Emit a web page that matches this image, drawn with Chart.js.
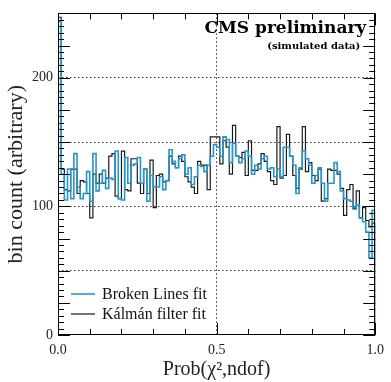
<!DOCTYPE html>
<html>
<head>
<meta charset="utf-8">
<script src="https://cdn.jsdelivr.net/npm/chart.js@4/dist/chart.umd.min.js"></script>
<style>
  html, body { margin: 0; padding: 0; background: #fff; }
  #wrap { width: 391px; height: 382px; }
</style>
</head>
<body>
<div id="wrap"><canvas id="c" width="391" height="382"></canvas></div>
<script>
// Histogram: 100 bins on [0, 1]
const binEdgesMin = 0;
const binEdgesMax = 1;
const nBins = 100;

const brokenLines = [
  244,125,105,129,106,141,115,106,110,127,
  104,141,112,118,128,114,122,121,143,106,
  105,138,118,132,133,138,118,129,104,124,
  115,115,123,113,120,144,135,130,137,140,
  125,130,117,123,132,131,127,132,139,148,
  146,139,154,152,134,149,139,134,137,143,
  139,125,132,129,137,139,129,130,123,129,
  123,146,146,139,132,110,130,143,137,132,
  118,124,130,118,104,118,118,134,127,112,
  106,105,104,99,101,91,88,80,60,97
];

const kalman = [
  247,129,113,112,129,129,110,120,119,110,
  91,125,118,125,118,122,139,141,108,106,
  143,113,112,137,137,118,110,129,110,136,
  99,124,125,119,120,139,133,130,139,135,
  123,119,115,110,135,132,132,113,154,154,
  154,133,151,146,125,163,139,138,142,124,
  151,128,128,133,141,135,127,120,117,162,
  122,124,156,139,124,114,129,162,127,134,
  124,120,129,104,106,129,128,128,125,114,
  93,113,117,98,112,91,99,89,84,87
];

const seriesLabels = ['Broken Lines fit', 'K\u00e1lm\u00e1n filter fit'];
const xTickLabels = {0: '0.0', 0.5: '0.5', 1: '1.0'};
const yTickLabels = [0, 100, 200];
const yGridValues = [50, 100, 150, 200];
const xGridValues = [0.5];

function histPoints(vals) {
  const w = (binEdgesMax - binEdgesMin) / nBins;
  const pts = [{x: binEdgesMin, y: 0}];
  vals.forEach((v, i) => {
    pts.push({x: binEdgesMin + i * w, y: v});
    pts.push({x: binEdgesMin + (i + 1) * w, y: v});
  });
  pts.push({x: binEdgesMax, y: 0});
  return pts;
}

const SERIF = '"Liberation Serif", "DejaVu Serif", serif';
const WIDE = '"DejaVu Serif", "Liberation Serif", serif';
const BLUE = '#2596c8';
const BLACK = '#1a1a1a';

const frameAndTicks = {
  id: 'frameAndTicks',
  afterDraw(chart) {
    const ctx = chart.ctx;
    const a = chart.chartArea;
    const xs = chart.scales.x, ys = chart.scales.y;
    ctx.save();
    ctx.strokeStyle = '#000';
    ctx.lineWidth = 1;
    ctx.strokeRect(Math.round(a.left) + 0.5, Math.round(a.top) + 0.5,
                   Math.round(a.right - a.left) - 1, Math.round(a.bottom - a.top) - 1);
    ctx.beginPath();
    for (let v = 0; v <= 250; v += 5) {
      const y = Math.round(ys.getPixelForValue(v)) + 0.5;
      const len = (v % 25 === 0) ? 12 : 6;
      ctx.moveTo(a.left, y); ctx.lineTo(a.left + len, y);
      ctx.moveTo(a.right, y); ctx.lineTo(a.right - len, y);
    }
    for (let k = 0; k <= 10; k++) {
      const x = Math.round(xs.getPixelForValue(k / 10)) + 0.5;
      const len = (k % 5 === 0) ? 12 : 6;
      ctx.moveTo(x, a.bottom); ctx.lineTo(x, a.bottom - len);
      ctx.moveTo(x, a.top); ctx.lineTo(x, a.top + len);
    }
    ctx.stroke();

    // legend
    const items = [[BLUE, 1.6, seriesLabels[0]], [BLACK, 1.2, seriesLabels[1]]];
    ctx.font = '16px ' + SERIF;
    ctx.textBaseline = 'middle';
    ctx.textAlign = 'left';
    items.forEach((it, i) => {
      const y = 294 + i * 20;
      ctx.strokeStyle = it[0];
      ctx.lineWidth = it[1];
      ctx.beginPath();
      ctx.moveTo(a.left + 13, y); ctx.lineTo(a.left + 37, y);
      ctx.stroke();
      ctx.fillStyle = '#111';
      ctx.fillText(it[2], a.left + 44, y + 1);
    });

    // CMS label
    ctx.textAlign = 'right';
    ctx.textBaseline = 'alphabetic';
    ctx.fillStyle = '#000';
    ctx.font = 'bold 17px ' + WIDE;
    ctx.fillText('CMS preliminary', a.right - 9, 33);
    ctx.font = 'bold 10px ' + WIDE;
    ctx.fillText('(simulated data)', a.right - 15, 49);
    ctx.restore();
  }
};

new Chart(document.getElementById('c'), {
  type: 'line',
  data: {
    datasets: [
      { label: seriesLabels[0], data: histPoints(brokenLines), borderColor: BLUE,
        borderWidth: 1.6, pointRadius: 0, tension: 0, fill: false },
      { label: seriesLabels[1], data: histPoints(kalman), borderColor: BLACK,
        borderWidth: 1.2, pointRadius: 0, tension: 0, fill: false }
    ]
  },
  options: {
    responsive: false,
    animation: false,
    devicePixelRatio: 1,
    layout: { padding: { top: 8, right: 12, left: 0, bottom: 0 } },
    plugins: { legend: { display: false }, tooltip: { enabled: false } },
    scales: {
      x: {
        type: 'linear', min: 0, max: 1,
        afterFit(s) { s.height = 47; },
        afterBuildTicks(s) { s.ticks = [0, 0.5, 1].map(v => ({value: v})); },
        ticks: {
          callback: v => xTickLabels[v] ?? '',
          font: { family: SERIF, size: 14 }, color: '#222', padding: 7, maxRotation: 0
        },
        grid: {
          drawTicks: false,
          color: c => (c.tick && xGridValues.includes(c.tick.value)) ? '#333' : 'rgba(0,0,0,0)',
          lineWidth: 1
        },
        border: { display: false, dash: [1.5, 2.5] },
        title: { display: true, text: 'Prob(\u03c7\u00b2,ndof)', font: { family: SERIF, size: 20 },
                 color: '#222', padding: { top: 0, bottom: 0 } }
      },
      y: {
        type: 'linear', min: 0, max: 250,
        afterFit(s) { s.width = 58; },
        afterBuildTicks(s) { s.ticks = [0, 50, 100, 150, 200, 250].map(v => ({value: v})); },
        ticks: {
          callback: v => yTickLabels.includes(v) ? String(v) : '',
          font: { family: SERIF, size: 14 }, color: '#222', padding: 5
        },
        grid: {
          drawTicks: false,
          color: c => (c.tick && yGridValues.includes(c.tick.value)) ? '#333' : 'rgba(0,0,0,0)',
          lineWidth: 1
        },
        border: { display: false, dash: [1.5, 2.5] },
        title: { display: true, text: 'bin count (arbitrary)', font: { family: SERIF, size: 22 },
                 color: '#222', padding: { top: 3, bottom: 0 } }
      }
    }
  },
  plugins: [frameAndTicks]
});
</script>
</body>
</html>
